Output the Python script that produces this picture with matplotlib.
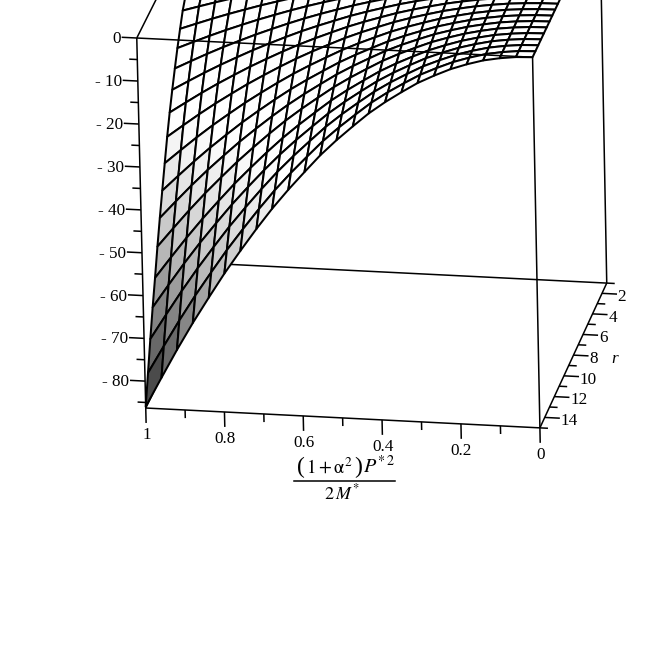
import numpy as np
import matplotlib
matplotlib.use("Agg")
import matplotlib.pyplot as plt
from matplotlib.colors import LinearSegmentedColormap, Normalize
from matplotlib.lines import Line2D
from mpl_toolkits.mplot3d import proj3d

plt.rcParams['mathtext.fontset'] = 'stix'
plt.rcParams['font.family'] = ['Liberation Serif', 'DejaVu Serif']

# grid of the surface, 25 lines each way
x_vals = [0, 0.042, 0.083, 0.125, 0.167, 0.208, 0.25, 0.292, 0.333, 0.375, 0.417, 0.458, 0.5,
          0.542, 0.583, 0.625, 0.667, 0.708, 0.75, 0.792, 0.833, 0.875, 0.917, 0.958, 1]
r_vals = [1, 1.58, 2.17, 2.75, 3.33, 3.92, 4.5, 5.08, 5.67, 6.25, 6.83, 7.42, 8,
          8.58, 9.17, 9.75, 10.33, 10.92, 11.5, 12.08, 12.67, 13.25, 13.83, 14.42, 15]
z_at_x1 = [-0.4, -0.9, -1.8, -2.9, -4.3, -5.9, -7.8, -9.9, -12.3, -14.3, -17.2, -20.3, -23.7,
           -27.3, -31.2, -35.5, -40.3, -45.3, -50.3, -55.6, -61.5, -67, -73, -79.5, -86]
# height along the edge r=15
z_at_r15 = [0, -0.15, -0.6, -1.3, -2.4, -3.7, -5.4, -7.3, -9.6, -12.1, -14.9, -18.1, -21.5,
            -25.2, -29.3, -33.6, -38.2, -43.1, -48.4, -53.9, -59.7, -65.8, -72.3, -79, -86]

z_major = [0, -10, -20, -30, -40, -50, -60, -70, -80]
z_major_labels = ['0', '- 10', '- 20', '- 30', '- 40', '- 50', '- 60', '- 70', '- 80']
z_minor = [-5, -15, -25, -35, -45, -55, -65, -75, -85]
x_major = [1, 0.8, 0.6, 0.4, 0.2, 0]
x_major_labels = ['1', '0.8', '0.6', '0.4', '0.2', '0']
x_minor = [0.9, 0.7, 0.5, 0.3, 0.1]
r_major = [2, 4, 6, 8, 10, 12, 14]
r_minor = [1, 3, 5, 7, 9, 11, 13, 15]

z_bot = -86.3
gray_stops = [(0, '#303030'), (0.08, '#4d4d4d'), (0.21, '#808080'), (0.36, '#bdbdbd'),
              (0.51, '#e6e6e6'), (0.63, '#ffffff'), (1, '#ffffff')]

W, H = 654, 659
fig = plt.figure(figsize=(W / 100, H / 100), dpi=100)
side = 663.24
ax = fig.add_axes([32.59 / W, 157.13 / H, side / W, side / H], projection='3d')
ax.computed_zorder = False
ax.set_xlim(0, 1)
ax.set_ylim(1, 15)
ax.set_zlim(z_bot, 0)
ax.set_xticks([])
ax.set_yticks([])
ax.set_zticks([])
ax.set_box_aspect((1, 0.966, 0.995))
ax.view_init(21.908, 100.743, 1.239)
ax.set_proj_type('persp', focal_length=10)
ax.set_axis_off()

xx, rr = np.meshgrid(x_vals, r_vals)
zz = np.outer(z_at_x1, np.array(z_at_r15) / z_at_r15[-1])
grays = LinearSegmentedColormap.from_list('grays', gray_stops)
ax.plot_surface(xx, rr, zz, rstride=1, cstride=1, cmap=grays, norm=Normalize(-86, 0), shade=False,
                edgecolor='black', linewidth=1.45, zorder=2)


def seg(xs, ys, zs, order=1, lw=1.1):
    ax.plot(xs, ys, zs, color='black', lw=lw, zorder=order, solid_capstyle='butt')


def label(x, r, z, text, **kw):
    # put the text at the projected point, a plain 2d text keeps a true position
    px, py, _ = proj3d.proj_transform(x, r, z, ax.get_proj())
    ax.text2D(px, py, text, transform=ax.transData, va='center', fontsize=12.3, **kw)


# box, the parts behind the surface first
seg([1, 1], [15, 15], [z_bot, 0], 3)
seg([0, 0], [15, 15], [z_bot, 0], 1)
seg([0, 0], [1, 1], [z_bot, 0], 1)
seg([1, 0], [15, 15], [z_bot, z_bot], 3)
seg([0, 0], [15, 1], [z_bot, z_bot], 3)
seg([1, 0], [1, 1], [z_bot, z_bot], 1)
seg([1, 1], [15, 1], [z_bot, z_bot], 1)
seg([1, 1], [15, 1], [0, 0], 1)
seg([1, 0], [15, 15], [0, 0], 3)

for z, lab in zip(z_major, z_major_labels):
    seg([1, 1.0383], [15, 15], [z, z], 3)
    label(1.04, 15, z - 0.4, lab, ha='right')
for z in z_minor:
    seg([1, 1.0204], [15, 15], [z, z], 3)

for x, lab in zip(x_major, x_major_labels):
    seg([x, x], [15, 15], [z_bot, z_bot - 3.5], 3)
    label(x, 15, z_bot - 6.3, lab, ha='center')
for x in x_minor:
    seg([x, x], [15, 15], [z_bot, z_bot - 1.9], 3)

for r in r_major:
    seg([0, -0.0383], [r, r], [z_bot, z_bot], 3)
    label(-0.04, r, z_bot - 0.7, str(r), ha='left')
for r in r_minor:
    seg([0, -0.0204], [r, r], [z_bot, z_bot], 3)

fig.text(615 / W, 1 - 359 / H, 'r', style='italic', ha='center', va='center', fontsize=12.3)
# the fraction of the x label is laid out by hand, mathtext \frac and \left come out too small
num_y = 1 - 467 / H
fig.text(297 / W, num_y, '(', ha='left', va='center', fontsize=17)
fig.text(306 / W, num_y, r'$1+\mathrm{\alpha}^{2}$', ha='left', va='center', fontsize=13.5)
fig.text(354 / W, num_y, ')', ha='left', va='center', fontsize=17)
fig.text(363 / W, num_y, r'$P^{*\,2}$', ha='left', va='center', fontsize=14.5)
fig.add_artist(Line2D([293.5 / W, 395 / W], [1 - 481 / H, 1 - 481 / H], color='black', lw=1.1))
fig.text(342 / W, 1 - 493 / H, r'$2\,M^{*}$', ha='center', va='center', fontsize=13)

fig.savefig('out.png', dpi=100)
